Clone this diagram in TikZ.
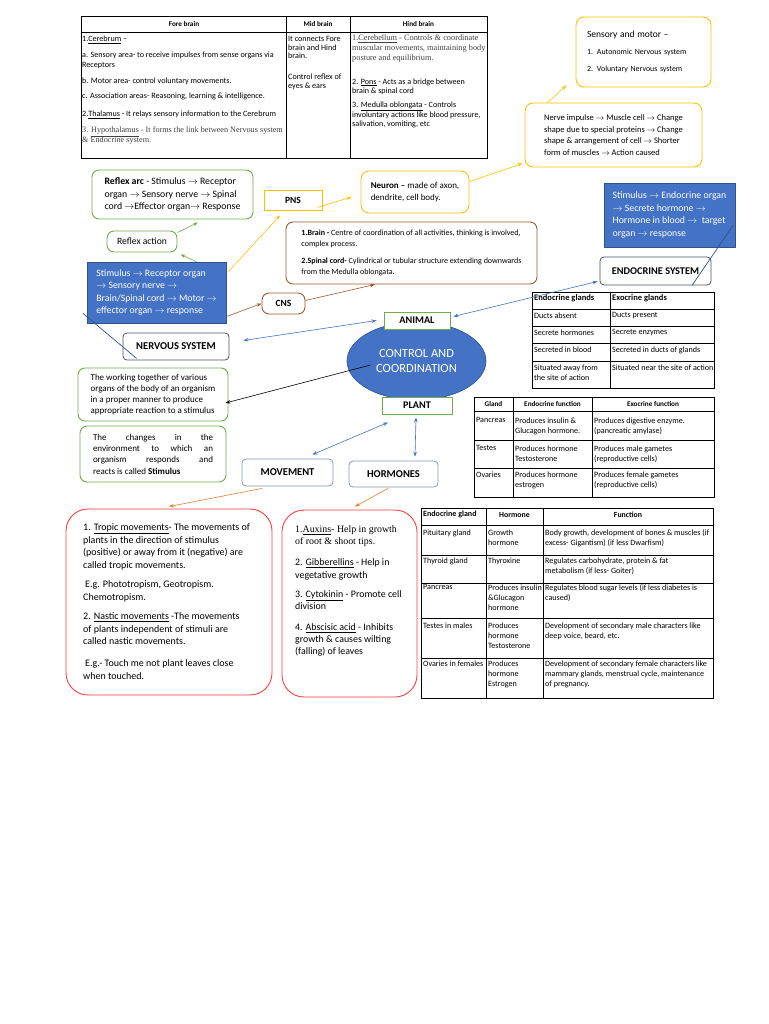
\documentclass[tikz,border=0pt]{standalone}
\usepackage{fontspec}
\setmainfont{Carlito}
\newfontfamily\tnr{Liberation Serif}
\usepackage{tikz}
\usetikzlibrary{arrows.meta, shapes.geometric}

\definecolor{ygold}{HTML}{FFC000}
\definecolor{lgreen}{HTML}{70AD47}
\definecolor{brn}{HTML}{9C5A2E}
\definecolor{bfill}{HTML}{4472C4}
\definecolor{bdark}{HTML}{2F528F}
\definecolor{rred}{HTML}{FF4040}
\definecolor{slate}{HTML}{8497B0}
\definecolor{dslate}{HTML}{4A5568}
\definecolor{orng}{HTML}{ED7D31}

\begin{document}
\begin{tikzpicture}[x=1pt, y=-1pt,
    ybox/.style={draw=ygold, line width=0.9pt, rounded corners=8pt, align=left, inner sep=0pt},
    gbox/.style={draw=lgreen, line width=0.9pt, rounded corners=7pt, align=left, inner sep=0pt},
    bbox/.style={draw=bdark, fill=bfill, line width=0.5pt, text=white, align=left, inner sep=0pt},
    brbox/.style={draw=brn, line width=0.9pt, rounded corners=7pt, align=left, inner sep=0pt},
    sysbox/.style={draw=slate, line width=0.8pt, rounded corners=4pt, fill=white,
                   font=\fontsize{10.5}{12}\selectfont\bfseries, inner sep=0pt},
    lbox/.style={draw=lgreen, line width=0.9pt, fill=white,
                 font=\fontsize{10.2}{11}\selectfont\bfseries, inner sep=0pt},
    rbox/.style={draw=rred, line width=0.9pt, rounded corners=22pt},
    cell/.style={anchor=north west, inner sep=0pt, align=left, font=\fontsize{8.1}{10}\selectfont},
    head/.style={inner sep=0pt, font=\fontsize{7.2}{9}\selectfont\bfseries},
    tline/.style={line width=0.7pt},
    arr/.style={-{Stealth[length=5pt,width=3.6pt]}, line width=0.6pt},
    darr/.style={{Stealth[length=5pt,width=3.6pt]}-{Stealth[length=5pt,width=3.6pt]}, line width=0.6pt}
  ]
  \path[fill=white, use as bounding box] (0,0) rectangle (768,1024);

  % brain table
  \draw[tline] (81,16) rectangle (487,158);
  \draw[tline] (81,32) -- (487,32) (286,16) -- (286,158) (350,16) -- (350,158);
  \node[head] (hfore) at (184,24) {Fore brain};
  \node[head] (hmid)  at (318,24) {Mid brain};
  \node[head] (hhind) at (418.5,24) {Hind brain};
  \node[cell] (cfore) at (82,36)
    {1.\underline{Cerebrum} –\\[6pt]
     a. Sensory area- to receive impulses from sense organs via\\ Receptors\\[6pt]
     b. Motor area- control voluntary movements.\\[5pt]
     c. Association areas- Reasoning, learning \& intelligence.\\[8pt]
     2.\underline{Thalamus} - It relays sensory information to the Cerebrum\\[6pt]
     {\tnr\fontsize{8.2}{10}\selectfont\color{black!75}3. \underline{Hypothalamus} - It forms the link between Nervous system}\\
     {\tnr\fontsize{8.2}{10}\selectfont\color{black!75}\& Endocrine system.}};
  \node[cell, font=\fontsize{8.1}{8.7}\selectfont] (cmid) at (288,36)
    {It connects Fore\\ brain and Hind\\ brain.\\[12pt] Control reflex of\\ eyes \& ears};
  \node[cell, font=\fontsize{8.1}{9.7}\selectfont] (chind) at (352,35)
    {{\tnr\fontsize{8.3}{9}\selectfont\color{black!75}1.\underline{Cerebellum} - Controls \& coordinate}\\
     {\tnr\fontsize{8.3}{9}\selectfont\color{black!75}muscular movements, maintaining body}\\
     {\tnr\fontsize{8.3}{9}\selectfont\color{black!75}posture and equilibrium.}\\[14pt]
     2. \underline{Pons} - Acts as a bridge between\\ brain \& spinal cord\\[4pt]
     3. \underline{Medulla oblongata} - Controls\\ involuntary actions like blood pressure,\\ salivation, vomiting, etc};

  % boxes top right
  \node[ybox, minimum width=135, minimum height=70, text width=113,
        font=\fontsize{7.9}{17}\selectfont] (sens) at (643.5,52)
    {{\fontsize{9.5}{17}\selectfont Sensory and motor –}\\ 1. Autonomic Nervous system\\ 2. Voluntary Nervous system};
  \node[ybox, minimum width=177, minimum height=64, font=\fontsize{8.5}{11.5}\selectfont] (muscle) at (613.5,135)
    {Nerve impulse $\rightarrow$ Muscle cell $\rightarrow$ Change\\
     shape due to special proteins $\rightarrow$ Change\\
     shape \& arrangement of cell $\rightarrow$ Shorter\\
     form of muscles $\rightarrow$ Action caused};
  \node[ybox, minimum width=108, minimum height=42, font=\fontsize{9}{12}\selectfont] (neuron) at (415,192)
    {\textbf{Neuron –} made of axon,\\ dendrite, cell body.};
  \node[ybox, rounded corners=0pt, minimum width=58, minimum height=20,
        font=\fontsize{9.5}{10}\selectfont\bfseries] (pns) at (293,200) {PNS};

  % reflex
  \node[gbox, minimum width=161, minimum height=49, font=\fontsize{9.8}{12.5}\selectfont] (rarc) at (172.5,194.5)
    {\textbf{Reflex arc} - Stimulus $\rightarrow$ Receptor\\
     organ $\rightarrow$ Sensory nerve $\rightarrow$ Spinal\\
     cord $\rightarrow$Effector organ$\rightarrow$ Response};
  \node[gbox, minimum width=70, minimum height=21, font=\fontsize{9.6}{10}\selectfont] (ract) at (142,241.5) {Reflex action};
  \node[bbox, minimum width=139, minimum height=61, font=\fontsize{9.8}{12.3}\selectfont] (stim) at (156.5,292.5)
    {Stimulus $\rightarrow$ Receptor organ\\
     $\rightarrow$ Sensory nerve $\rightarrow$\\
     Brain/Spinal cord $\rightarrow$ Motor $\rightarrow$\\
     effector organ $\rightarrow$ response};

  % CNS
  \node[brbox, minimum width=251, minimum height=62, font=\fontsize{8}{11}\selectfont] (brain) at (411.5,253)
    {\textbf{1.Brain -} Centre of coordination of all activities, thinking is involved,\\
     complex process.\\[6pt]
     \textbf{2.Spinal cord-} Cylindrical or tubular structure extending downwards\\
     from the Medulla oblongata.};
  \node[brbox, minimum width=43, minimum height=21, font=\fontsize{9.5}{10}\selectfont\bfseries] (cns) at (283.5,303.5) {CNS};
  \node[sysbox, draw=dslate, minimum width=106, minimum height=27] (nervous) at (176,346.5) {NERVOUS SYSTEM};

  % endocrine
  \node[bbox, minimum width=131, minimum height=64, font=\fontsize{9.8}{12.7}\selectfont] (bstim) at (669.5,215)
    {Stimulus $\rightarrow$ Endocrine organ\\
     $\rightarrow$ Secrete hormone $\rightarrow$\\
     Hormone in blood $\rightarrow$\ \ target\\
     organ $\rightarrow$ response};
  \node[sysbox, draw=dslate, minimum width=111, minimum height=28,
        font=\fontsize{10.3}{11}\selectfont\bfseries] (endosys) at (655.5,271) {ENDOCRINE SYSTEM};

  % centre
  \node[ellipse, draw=bdark, fill=bfill, line width=0.6pt, minimum width=139, minimum height=78,
        text=white, align=center, font=\fontsize{12.5}{15}\selectfont] (cc) at (416.5,361)
    {CONTROL AND\\COORDINATION};
  \node[lbox, minimum width=66, minimum height=17] (animal) at (417,320.5) {ANIMAL};
  \node[lbox, minimum width=70, minimum height=17] (plant) at (417,405.5) {PLANT};

  % left green boxes
  \node[gbox, minimum width=150, minimum height=53, font=\fontsize{9}{11}\selectfont] (working) at (153,394.5)
    {The working together of various\\
     organs of the body of an organism\\
     in a proper manner to produce\\
     appropriate reaction to a stimulus};
  \node[gbox, minimum width=146, minimum height=56, font=\fontsize{9}{11.3}\selectfont] (changes) at (153,454)
    {\makebox[120pt][s]{The changes in the}\\
     \makebox[120pt][s]{environment to which an}\\
     \makebox[120pt][s]{organism responds and}\\
     reacts is called \textbf{Stimulus}};

  \node[sysbox, minimum width=91, minimum height=27] (movement) at (287.5,472.5) {MOVEMENT};
  \node[sysbox, minimum width=89, minimum height=26] (hormones) at (393.5,474) {HORMONES};

  % red boxes
  \node[rbox, minimum width=206, minimum height=186] (red1) at (169,602) {};
  \node[anchor=north west, inner sep=0pt, align=left, font=\fontsize{10}{12.6}\selectfont] (red1txt) at (83,523.5)
    {1. \underline{Tropic movements}- The movements of\\
     plants in the direction of stimulus\\
     (positive) or away from it (negative) are\\
     called tropic movements.\\[6.5pt]
     \hspace*{2pt}E.g. Phototropism, Geotropism.\\
     Chemotropism.\\[7pt]
     2. \underline{Nastic movements} -The movements\\
     of plants independent of stimuli are\\
     called nastic movements.\\[9pt]
     \hspace*{2pt}E.g.- Touch me not plant leaves close\\
     when touched.};
  \node[rbox, minimum width=135, minimum height=187] (red2) at (349.5,603.5) {};
  \node[anchor=north west, inner sep=0pt, align=left, font=\fontsize{9.9}{12.2}\selectfont] (red2txt) at (295,525.5)
    {{\tnr\fontsize{9.9}{12}\selectfont 1.\underline{Auxins}- Help in growth}\\
     {\tnr\fontsize{9.9}{12}\selectfont of root \& shoot tips.}\\[9pt]
     2. \underline{Gibberellins} - Help in\\ vegetative growth\\[7pt]
     3. \underline{Cytokinin} - Promote cell\\ division\\[8.5pt]
     4. \underline{Abscisic acid} - Inhibits\\ growth \& causes wilting\\ (falling) of leaves};

  % endocrine / exocrine table
  \draw[tline] (532,292) rectangle (714,388);
  \draw[tline] (610,292) -- (610,388)
    (532,309) -- (714,309) (532,326) -- (714,326) (532,343) -- (714,343) (532,361) -- (714,361);
  \node[cell, font=\fontsize{8.5}{9}\selectfont\bfseries] (ge1) at (534,294.5) {Endocrine glands};
  \node[cell, font=\fontsize{8.5}{9}\selectfont\bfseries] (gx1) at (612,294.5) {Exocrine glands};
  \node[cell] (ge2) at (534,312.5) {Ducts absent};
  \node[cell] (gx2) at (612,312.5) {Ducts present};
  \node[cell] (ge3) at (534,329.5) {Secrete hormones};
  \node[cell] (gx3) at (612,329.5) {Secrete enzymes};
  \node[cell] (ge4) at (534,346.5) {Secreted in blood};
  \node[cell] (gx4) at (612,346.5) {Secreted in ducts of glands};
  \node[cell, font=\fontsize{8.1}{10.5}\selectfont] (ge5) at (534,364.5) {Situated away from\\ the site of action};
  \node[cell] (gx5) at (612,364.5) {Situated near the site of action};

  % gland function table
  \draw[tline] (474,397) rectangle (714,497);
  \draw[tline] (513,397) -- (513,497) (592,397) -- (592,497)
    (474,411) -- (714,411) (474,440) -- (714,440) (474,468) -- (714,468);
  \node[head] (fg0) at (493.5,404) {Gland};
  \node[head] (fe0) at (552.5,404) {Endocrine function};
  \node[head] (fx0) at (653,404) {Exocrine function};
  \node[cell] (fg1) at (476,417.5) {Pancreas};
  \node[cell] (fe1) at (515,417.5) {Produces insulin \&\\ Glucagon hormone.};
  \node[cell] (fx1) at (594,417.5) {Produces digestive enzyme.\\ (pancreatic amylase)};
  \node[cell] (fg2) at (476,445.5) {Testes};
  \node[cell] (fe2) at (515,445.5) {Produces hormone\\ Testosterone};
  \node[cell] (fx2) at (594,445.5) {Produces male gametes\\ (reproductive cells)};
  \node[cell] (fg3) at (476,471.5) {Ovaries};
  \node[cell] (fe3) at (515,471.5) {Produces hormone\\ estrogen};
  \node[cell] (fx3) at (594,471.5) {Produces female gametes\\ (reproductive cells)};

  % hormone table
  \draw[tline] (421,508) rectangle (713,698);
  \draw[tline] (486,508) -- (486,698) (543,508) -- (543,698)
    (421,525) -- (713,525) (421,555) -- (713,555) (421,583) -- (713,583)
    (421,618) -- (713,618) (421,658) -- (713,658);
  \node[cell, font=\fontsize{8}{9}\selectfont\bfseries] (hg0) at (423,510.5) {Endocrine gland};
  \node[head, font=\fontsize{7.8}{9}\selectfont\bfseries] (hh0) at (514.5,515) {Hormone};
  \node[head, font=\fontsize{7.8}{9}\selectfont\bfseries] (hf0) at (628,515) {Function};
  \node[cell] (hg1) at (423,529.5) {Pituitary gland};
  \node[cell] (hh1) at (488,529.5) {Growth\\ hormone};
  \node[cell] (hf1) at (545,529.5) {Body growth, development of bones \& muscles (if\\ excess- Gigantism) (if less Dwarfism)};
  \node[cell] (hg2) at (423,557.5) {Thyroid gland};
  \node[cell] (hh2) at (488,557.5) {Thyroxine};
  \node[cell] (hf2) at (545,557.5) {Regulates carbohydrate, protein \& fat\\ metabolism (if less- Goiter)};
  \node[cell] (hg3) at (423,584.5) {Pancreas};
  \node[cell] (hh3) at (488,584.5) {Produces insulin\\ \&Glucagon\\ hormone};
  \node[cell] (hf3) at (545,584.5) {Regulates blood sugar levels (if less diabetes is\\ caused)};
  \node[cell] (hg4) at (423,622.5) {Testes in males};
  \node[cell] (hh4) at (488,622.5) {Produces\\ hormone\\ Testosterone};
  \node[cell] (hf4) at (545,622.5) {Development of secondary male characters like\\ deep voice, beard, etc.};
  \node[cell] (hg5) at (423,660.5) {Ovaries in females};
  \node[cell] (hh5) at (488,660.5) {Produces\\ hormone\\ Estrogen};
  \node[cell] (hf5) at (545,660.5) {Development of secondary female characters like\\ mammary glands, menstrual cycle, maintenance\\ of pregnancy.};

  % connectors
  \draw[arr, ygold] ([xshift=23pt]muscle.north west) -- ([xshift=-9pt,yshift=2pt]sens.south west);
  \draw[arr, ygold] ([yshift=-11pt]neuron.north east) -- ([xshift=-2pt,yshift=4pt]muscle.south west);
  \draw[arr, ygold] ([xshift=-5pt,yshift=3pt]pns.south east) -- ([xshift=-9pt,yshift=-5pt]neuron.west);
  \draw[arr, ygold] ([xshift=2pt,yshift=-10pt]stim.north east) -- ([xshift=-13pt,yshift=-5pt]pns.south);
  \draw[arr, lgreen] ([yshift=-2pt]ract.north east) -- ([xshift=25.5pt,yshift=-3pt]rarc.south);
  \draw[arr, lgreen] ([xshift=40pt]stim.north) -- ([xshift=3pt,yshift=-2pt]ract.south east);
  \draw[arr, brn] ([xshift=1pt,yshift=7pt]stim.south east) -- (cns.west);
  \draw[arr, brn] ([yshift=3pt]cns.east) -- ([xshift=-36.5pt]brain.south);
  \draw[line width=0.7pt, bdark] ([xshift=-4pt,yshift=10pt]stim.south west) -- ([xshift=14pt,yshift=2pt]nervous.south west);
  \draw[line width=0.7pt, bdark] ([xshift=-2pt,yshift=-10pt]bstim.east) -- ([xshift=36.5pt]endosys.south);
  \draw[darr, bfill] ([xshift=-7pt]animal.west) -- ([xshift=14pt,yshift=6pt]nervous.east);
  \draw[darr, bfill] ([xshift=3pt,yshift=4pt]animal.east) -- ([xshift=-2pt,yshift=4pt]endosys.south west);
  \draw[arr, black] ([xshift=-46pt,yshift=-4pt]cc.center) -- ([xshift=-3pt,yshift=-8.5pt]working.east);
  \draw[darr, bfill] ([xshift=-29pt,yshift=-8pt]plant.south) -- ([xshift=-21pt,yshift=4pt]movement.north east);
  \draw[darr, bfill] ([xshift=-1pt,yshift=-3pt]plant.south) -- ([xshift=21.5pt,yshift=4pt]hormones.north);
  \draw[arr, orng] ([xshift=-25.5pt,yshift=-2pt]movement.south) -- ([yshift=2pt]red1.north);
  \draw[arr, orng] ([xshift=-5.5pt,yshift=-1pt]hormones.south) -- ([xshift=5.5pt,yshift=3pt]red2.north);
\end{tikzpicture}
\end{document}
